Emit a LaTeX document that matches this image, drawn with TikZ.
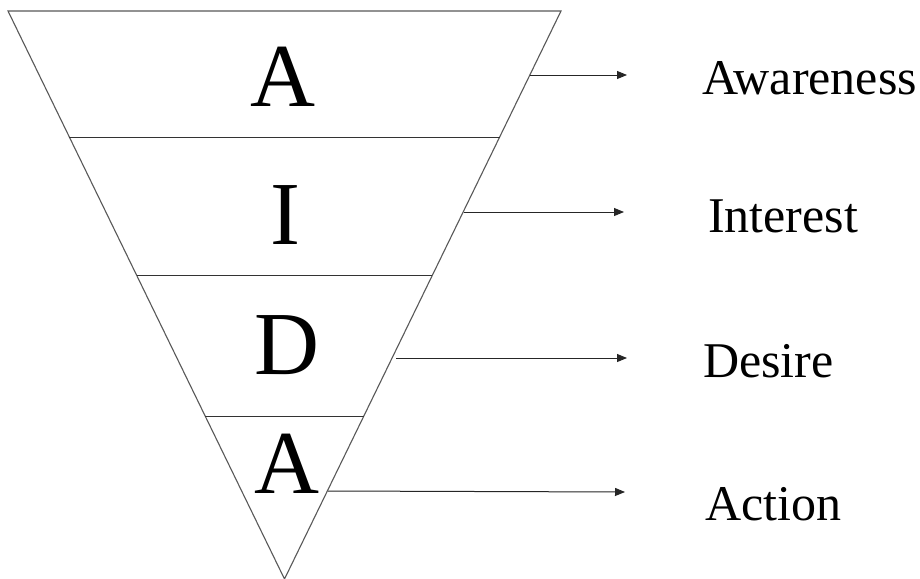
\documentclass[tikz,border=0pt]{standalone}
\usepackage{fontspec}
\setmainfont{Liberation Serif}
\usetikzlibrary{arrows.meta}
\begin{document}
\begin{tikzpicture}[x=1pt,y=-1pt,
  funnel/.style={draw=black!65,line width=1.1pt},
  band/.style={draw=black!80,line width=1pt},
  pointer/.style={draw=black!85,line width=1pt,-{Triangle[length=10pt,width=8pt]}},
  letter/.style={anchor=base,inner sep=0pt,font=\fontsize{90}{90}\selectfont},
  label/.style={anchor=base west,inner sep=0pt,font=\fontsize{50}{50}\selectfont}]
\useasboundingbox (0,0) rectangle (920,578);
\fill[white] (0,0) rectangle (920,578);
% funnel
\coordinate (tl) at (8,11);
\coordinate (tr) at (561,11);
\coordinate (ap) at (284.5,579);
\draw[funnel] (tl) -- (tr) -- (ap) -- cycle;
% band separators
\coordinate (b1l) at (69.4,137);  \coordinate (b1r) at (499.6,137);
\coordinate (b2l) at (136.6,275); \coordinate (b2r) at (432.4,275);
\coordinate (b3l) at (205.2,416); \coordinate (b3r) at (363.8,416);
\draw[band] (b1l) -- (b1r);
\draw[band] (b2l) -- (b2r);
\draw[band] (b3l) -- (b3r);
% letters
\node[letter] (l1) at (283,106) {A};
\node[letter] (l2) at (285,244) {I};
\node[letter] (l3) at (287,374) {D};
\node[letter] (l4) at (287,493) {A};
% labels
\node[label] (t1) at (702,94) {Awareness};
\node[label] (t2) at (708,232) {Interest};
\node[label] (t3) at (703,377) {Desire};
\node[label] (t4) at (705,520) {Action};
% arrows
\coordinate (s1) at (530,75);  \coordinate (e1) at (627,75);
\coordinate (s2) at (463.5,212); \coordinate (e2) at (624,212);
\coordinate (s3) at (396,358); \coordinate (e3) at (627,358);
\coordinate (s4) at (328,491); \coordinate (e4) at (625,492);
\draw[pointer] (s1) -- (e1);
\draw[pointer] (s2) -- (e2);
\draw[pointer] (s3) -- (e3);
\draw[pointer] (s4) -- (e4);
\end{tikzpicture}
\end{document}
